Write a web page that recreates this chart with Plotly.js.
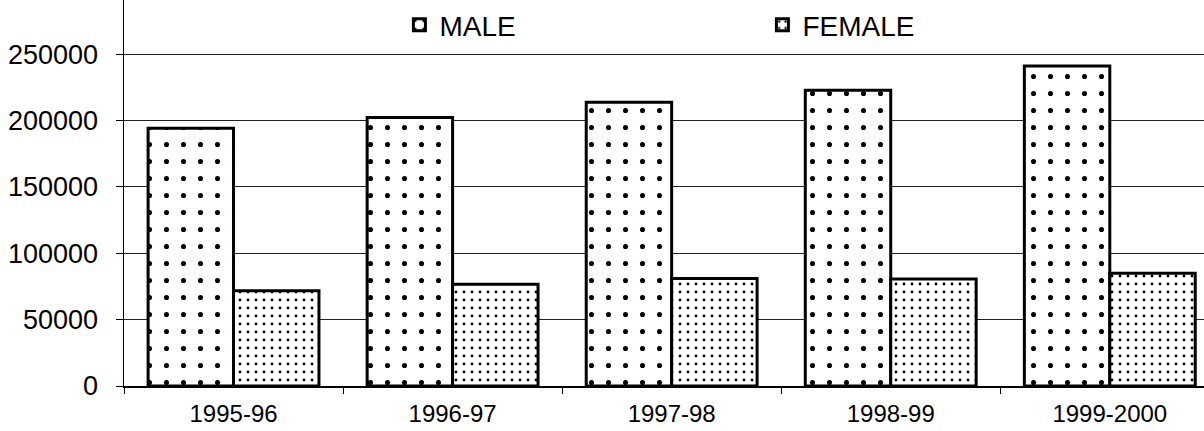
<!DOCTYPE html>
<html>
<head>
<meta charset="utf-8">
<script src="https://cdn.plot.ly/plotly-3.0.1.min.js"></script>
<style>html,body{margin:0;padding:0;background:#fff;}#chart{width:1204px;height:431px;}</style>
</head>
<body>
<div id="chart"></div>
<script>
var years = ["1995-96", "1996-97", "1997-98", "1998-99", "1999-2000"];
var male = [194300, 202300, 213900, 222900, 241200];
var female = [71800, 76600, 81100, 80600, 84900];
var seriesNames = ["MALE", "FEMALE"];

var font = "Arial, 'Liberation Sans', sans-serif";

var traces = [
  {
    type: "bar", name: seriesNames[0], x: years, y: male,
    marker: {
      color: "#ffffff",
      line: {color: "#000000", width: 3},
      pattern: {shape: ".", fgcolor: "#000000", fgopacity: 1, bgcolor: "#ffffff", size: 17, solidity: 0.07, fillmode: "overlay"}
    }
  },
  {
    type: "bar", name: seriesNames[1], x: years, y: female,
    marker: {
      color: "#ffffff",
      line: {color: "#000000", width: 3},
      pattern: {shape: ".", fgcolor: "#000000", fgopacity: 1, bgcolor: "#ffffff", size: 8, solidity: 0.1, fillmode: "overlay"}
    }
  }
];

var layout = {
  width: 1204, height: 431,
  margin: {l: 124, r: 0, t: 0, b: 45},
  paper_bgcolor: "#ffffff", plot_bgcolor: "#ffffff",
  font: {family: font, color: "#000000"},
  barmode: "group",
  bargap: 0.22,
  bargroupgap: 0,
  showlegend: true,
  legend: {
    orientation: "h", x: 0.255, xanchor: "left", y: 0.935, yanchor: "middle",
    font: {family: font, size: 28, color: "#000"},
    entrywidth: 318, entrywidthmode: "pixels",
    bgcolor: "rgba(0,0,0,0)"
  },
  xaxis: {
    type: "category",
    range: [-0.5, 4.43],
    showline: true, linecolor: "#000", linewidth: 1.5,
    ticks: "outside", tickson: "boundaries", ticklen: 6, tickcolor: "#000", tickwidth: 1,
    tickfont: {family: font, size: 24, color: "#000"},
    ticklabelstandoff: 6,
    showgrid: false, zeroline: false
  },
  yaxis: {
    range: [0, 290900],
    dtick: 50000, tick0: 0,
    tickformat: "d",
    showline: true, linecolor: "#000", linewidth: 1.5,
    ticks: "outside", ticklen: 7, tickcolor: "#000", tickwidth: 1,
    tickfont: {family: font, size: 27, color: "#000"},
    ticklabelstandoff: 12,
    showgrid: true, gridcolor: "#222", gridwidth: 1,
    zeroline: false
  }
};

Plotly.newPlot("chart", traces, layout, {displayModeBar: false, staticPlot: true});
</script>
</body>
</html>
